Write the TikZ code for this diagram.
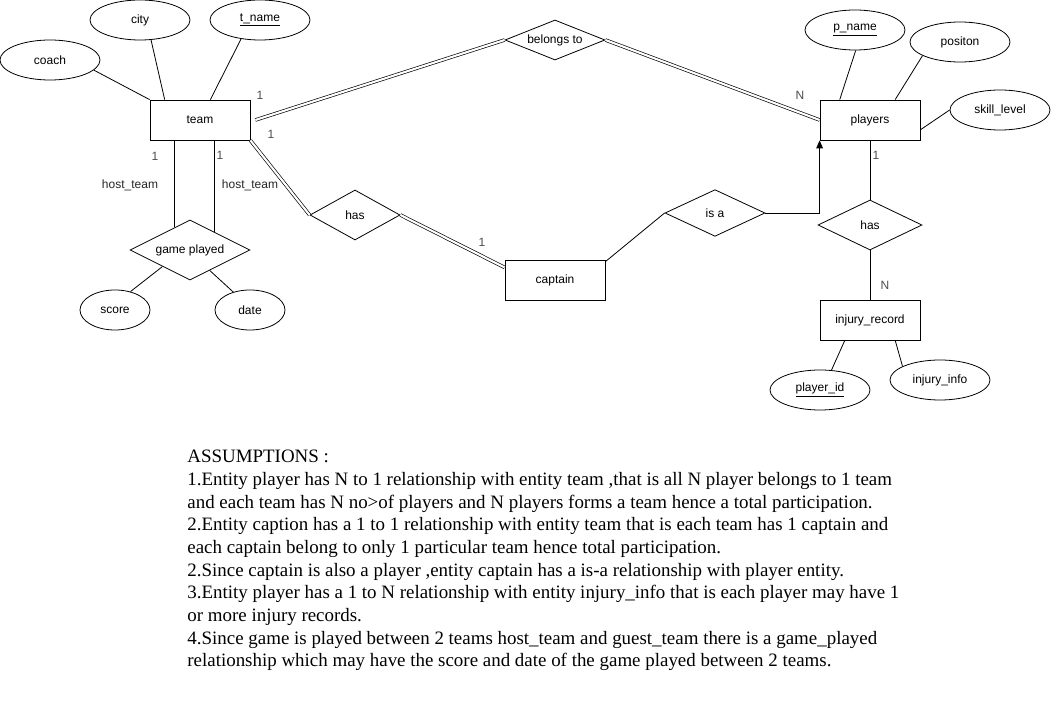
\documentclass[tikz,border=0pt]{standalone}
\usepackage{fontspec}
\setmainfont{Liberation Serif}
\newfontfamily\erfont{Liberation Sans}
\usetikzlibrary{shapes.geometric, arrows.meta, positioning}

\tikzset{
  entity/.style={draw, rectangle, minimum width=75pt, minimum height=30pt, inner sep=0pt, font=\erfont\fontsize{9}{10}\selectfont},
  attr/.style={draw, ellipse, minimum width=75pt, minimum height=30pt, inner sep=0pt, font=\erfont\fontsize{9}{10}\selectfont},
  relation/.style={draw, diamond, aspect=2.5, inner sep=0pt, font=\erfont\fontsize{9}{10}\selectfont},
  card/.style={font=\erfont\fontsize{9}{10}\selectfont, text=black!70},
  total/.style={draw, double, double distance=1.6pt, line width=0.5pt},
}

\begin{document}
\begin{tikzpicture}[x=0.75pt, y=-0.75pt, line width=0.6pt]
\useasboundingbox (0,0) rectangle (1051,720);

% entities
\node[entity] (team) at (200,120) {team};
\node[entity] (players) at (870,120) {players};
\node[entity] (captain) at (555,280) {captain};
\node[entity] (injury) at (870,320) {injury\_record};

% attributes
\node[attr] (coach) at (50,60) {coach};
\node[attr] (city) at (140,20) {city};
\node[attr] (tname) at (260,20) {\underline{t\_name}};
\node[attr] (pname) at (855,30) {\underline{p\_name}};
\node[attr] (positon) at (960,42) {positon};
\node[attr] (skill) at (1000,110) {skill\_level};
\node[attr] (pid) at (820,390) {\underline{player\_id}};
\node[attr] (info) at (940,380) {injury\_info};
\node[attr, minimum width=52.5pt] (score) at (115,310) {score};
\node[attr, minimum width=52.5pt] (date) at (250,310) {date};

% relationships
\node[relation, minimum width=75pt, minimum height=30pt] (belongs) at (555,40) {belongs to};
\node[relation, minimum width=67.5pt, minimum height=37.5pt] (hascap) at (355,215) {has};
\node[relation, minimum width=75pt, minimum height=35pt] (isa) at (715,213) {is a};
\node[relation, minimum width=78pt, minimum height=37.5pt] (hasinj) at (870,225) {has};
\node[relation, minimum width=90pt, minimum height=45pt] (game) at (190,250) {game played};

% attribute links
\draw (coach.-13) -- (team.north west);
\draw (city.-61) -- (team.150);
\draw (tname.-135) -- (team.63);
\draw (pname.-88) -- (players.146);
\draw (positon.-160) -- (players.39);
\draw (skill.west) -- (players.-11);
\draw (pid.60) -- (injury.219);
\draw (info.160) -- (injury.-39);
\draw (score.50) -- (game.211);
\draw (date.133) -- (game.-46);

% team -- belongs to -- players
\draw[total] ([xshift=3.75pt]team.east) -- (belongs.west);
\draw[total] (belongs.east) -- (players.west);
\node[card] at (260,95) {1};
\node[card] at (271,134) {1};
\node[card] at (800,95) {N};

% team -- has -- captain
\draw[total] (team.south east) -- (hascap.west);
\draw[total] (hascap.east) -- (captain.166);
\node[card] at (482,242) {1};

% captain is a player
\draw (captain.20) -- (isa.west);
\draw[-{Triangle[width=5pt,length=6pt]}] (isa.east) -| (players.south west);

% players -- has -- injury_record
\draw (players.south) -- (hasinj.north);
\draw (hasinj.south) -- (injury.north);
\node[card] at (876,155) {1};
\node[card] at (885,285) {N};

% game played
\draw (game.124) -- (game.124 |- team.south);
\draw (game.37) -- (game.37 |- team.south);
\node[card] at (155,156) {1};
\node[card] at (220,155) {1};
\node[card, text=black!85] at (130,185) {host\_team};
\node[card, text=black!85] at (250,185) {host\_team};

% assumptions
\node[anchor=north west, inner sep=0pt, align=left, font=\fontsize{14.2}{17}\selectfont] (notes) at (187,450) {%
ASSUMPTIONS :\\
1.Entity player has N to 1 relationship with entity team ,that is all N player belongs to 1 team\\
and each team has N no>of players and N players forms a team hence a total participation.\\
2.Entity caption has a 1 to 1 relationship with entity team that is each team has 1 captain and\\
each captain belong to only 1 particular team hence total participation.\\
2.Since captain is also a player ,entity captain has a is-a relationship with player entity.\\
3.Entity player has a 1 to N relationship with entity injury\_info that is each player may have 1\\
or more injury records.\\
4.Since game is played between 2 teams host\_team and guest\_team there is a game\_played\\
relationship which may have the score and date of the game played between 2 teams.};
\end{tikzpicture}
\end{document}
